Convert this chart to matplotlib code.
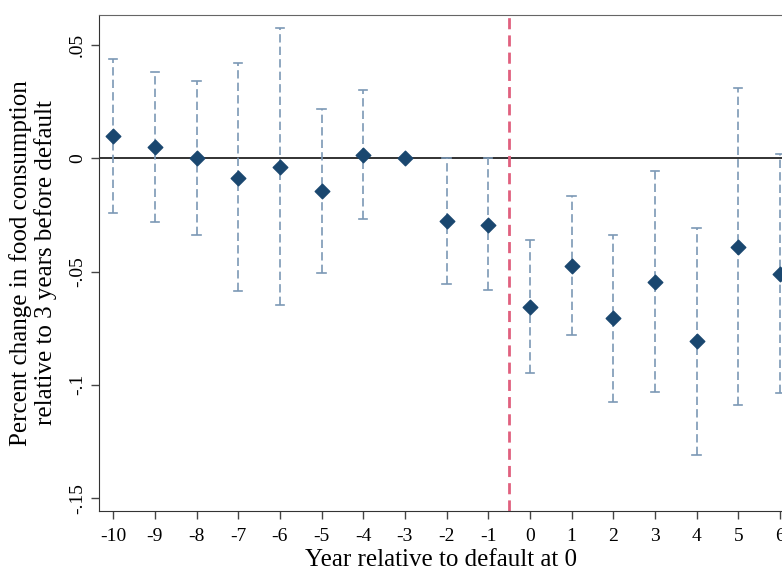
import matplotlib
matplotlib.use("Agg")
import matplotlib.pyplot as plt

# event-time estimates
years = [-10, -9, -8, -7, -6, -5, -4, -3, -2, -1, 0, 1, 2, 3, 4, 5, 6]
coef = [0.0097, 0.0050, 0.0, -0.0087, -0.0038, -0.0146, 0.0016, 0.0, -0.0278, -0.0296,
        -0.0656, -0.0474, -0.0707, -0.0546, -0.0808, -0.0393, -0.0511]
ci_hi = [0.0438, 0.0380, 0.0343, 0.0419, 0.0575, 0.0219, 0.0300, 0.0, 0.0, 0.0,
         -0.0359, -0.0165, -0.0341, -0.0057, -0.0307, 0.0308, 0.0019]
ci_lo = [-0.0241, -0.0281, -0.0341, -0.0587, -0.0649, -0.0506, -0.0266, 0.0, -0.0553, -0.0581,
         -0.0947, -0.0782, -0.1075, -0.1031, -0.1309, -0.1091, -0.1038]
yticks = [0.05, 0, -0.05, -0.1, -0.15]
ytick_labels = [".05", "0", "-.05", "-.1", "-.15"]

plt.rcParams["font.family"] = ["Liberation Serif", "DejaVu Serif"]

fig = plt.figure(figsize=(7.82, 5.71), dpi=100)
ax = fig.add_axes([0.1266, 0.105, 0.8734, 0.8687])

bar_color = "#7b98b5"
for x, lo, hi in zip(years, ci_lo, ci_hi):
    if hi == lo:
        continue
    ax.plot([x, x], [lo, hi], color=bar_color, lw=1.2, ls=(0, (5, 2.5)), zorder=2)
    ax.plot([x - 0.1, x + 0.1], [lo, lo], color=bar_color, lw=1.2, zorder=2)
    ax.plot([x - 0.1, x + 0.1], [hi, hi], color=bar_color, lw=1.2, zorder=2)

ax.axhline(0, color="#222222", lw=1.3, zorder=1)
ax.axvline(-0.5, color="#e0607e", lw=2, ls=(0, (4, 2.2)), zorder=1)
ax.scatter(years, coef, marker="D", s=55, color="#1a476f", zorder=3)

ax.set_xlim(-10.34, 6.05)
ax.set_ylim(-0.1557, 0.0632)
ax.set_xticks(years)
ax.set_xticklabels([str(y) for y in years], fontsize=14)
ax.set_yticks(yticks)
ax.set_yticklabels(ytick_labels, fontsize=14, rotation=90, va="center")
ax.tick_params(length=6, width=1, color="#444444")
ax.tick_params(axis="x", pad=6)

ax.spines["right"].set_visible(False)
ax.spines["top"].set_color("#666666")
for s in ["left", "bottom"]:
    ax.spines[s].set_color("#333333")

ax.set_xlabel("Year relative to default at 0", fontsize=18, labelpad=3)
ax.set_ylabel("Percent change in food consumption\nrelative to 3 years before default",
              fontsize=18, linespacing=1.1)
ax.yaxis.set_label_coords(-0.062, 0.5)

fig.savefig("out.png", dpi=100)
